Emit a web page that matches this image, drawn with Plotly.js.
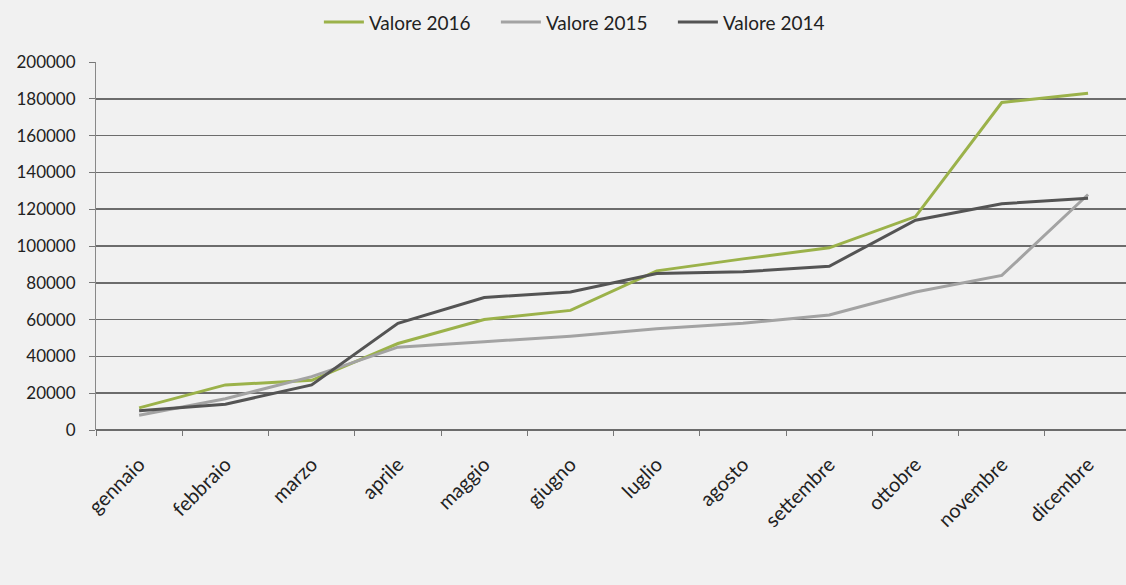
<!DOCTYPE html>
<html>
<head>
<meta charset="utf-8">
<script src="https://cdn.plot.ly/plotly-3.0.1.min.js"></script>
<style>html,body{margin:0;padding:0;background:#f1f1f1;}#chart{width:1126px;height:585px;}</style>
</head>
<body>
<div id="chart"></div>
<script>
const months = ["gennaio","febbraio","marzo","aprile","maggio","giugno","luglio","agosto","settembre","ottobre","novembre","dicembre"];
const valore2016 = [12000, 24500, 27000, 47000, 60000, 65000, 86500, 93000, 99000, 116000, 178000, 183000];
const valore2015 = [8000, 17000, 29000, 45000, 48000, 51000, 55000, 58000, 62500, 75000, 84000, 128000];
const valore2014 = [10500, 14000, 24500, 58000, 72000, 75000, 85000, 86000, 89000, 114000, 123000, 126000];
const yTicks = [0, 20000, 40000, 60000, 80000, 100000, 120000, 140000, 160000, 180000, 200000];

const traces = [
  {name: "Valore 2016", x: months, y: valore2016, type: "scatter", mode: "lines", line: {color: "#9bb24a", width: 3}},
  {name: "Valore 2015", x: months, y: valore2015, type: "scatter", mode: "lines", line: {color: "#a3a3a3", width: 3}},
  {name: "Valore 2014", x: months, y: valore2014, type: "scatter", mode: "lines", line: {color: "#545454", width: 3}}
];

const layout = {
  width: 1126, height: 585,
  margin: {l: 96, r: 0, t: 62, b: 155},
  paper_bgcolor: "#f1f1f1", plot_bgcolor: "#f1f1f1",
  font: {family: "Lato, 'Open Sans', sans-serif", color: "#222", size: 16},
  showlegend: true,
  legend: {orientation: "h", xref: "container", yref: "container", x: 0.519, xanchor: "center", y: 0.962, yanchor: "middle",
           font: {size: 19, color: "#222"}, bgcolor: "rgba(0,0,0,0)", itemwidth: 40, tracegroupgap: 0,
           entrywidth: 122, entrywidthmode: "pixels"},
  xaxis: {
    type: "category", range: [-0.5, 11.44], tickangle: -45,
    ticks: "outside", tickson: "boundaries", ticklen: 5, tickcolor: "#777", tickwidth: 1,
    showgrid: false, showline: false, zeroline: false, ticklabelstandoff: 18,
    tickfont: {size: 20, color: "#222"}, fixedrange: true
  },
  yaxis: {
    range: [0, 200000], tickvals: yTicks, ticktext: yTicks.map(String),
    showgrid: true, gridcolor: "#6c6c6c", gridwidth: 1.5,
    showline: true, linecolor: "#888", linewidth: 1,
    ticks: "outside", ticklen: 6, tickcolor: "#777", ticklabelstandoff: 10,
    zeroline: true, zerolinecolor: "#6c6c6c", zerolinewidth: 1.5,
    tickfont: {size: 17, color: "#222"}, fixedrange: true
  }
};

Plotly.newPlot("chart", traces, layout, {displayModeBar: false, staticPlot: true});
</script>
</body>
</html>
